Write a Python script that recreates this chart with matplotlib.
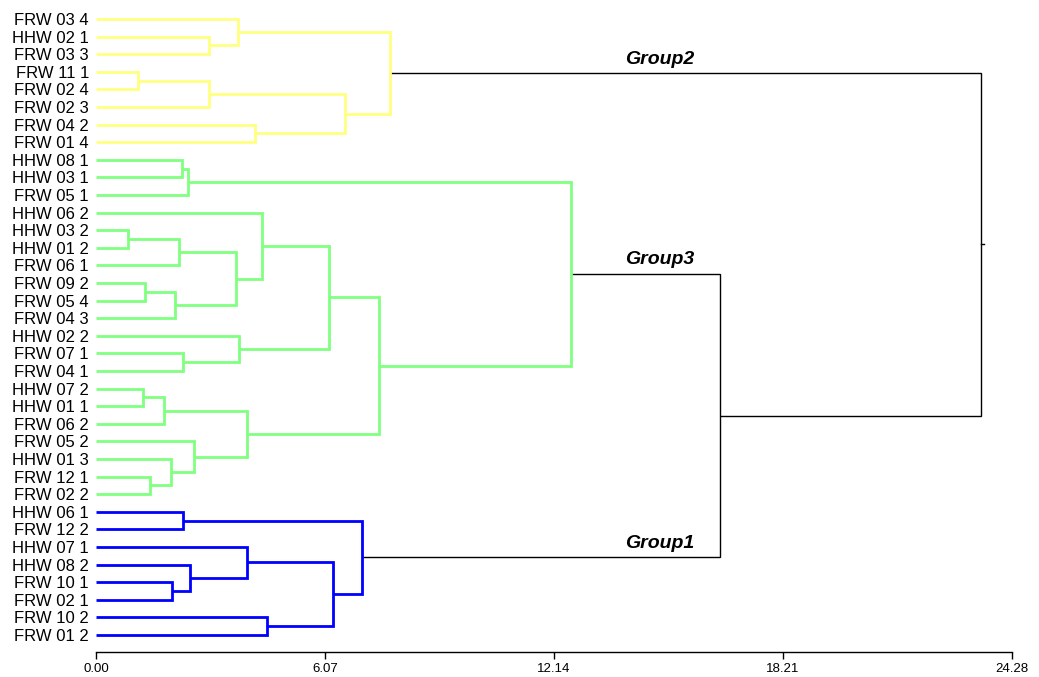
import matplotlib
matplotlib.use("Agg")
import matplotlib.pyplot as plt

plt.rcParams['font.family'] = ['Liberation Sans', 'DejaVu Sans']

# Sample labels, in dendrogram order from top to bottom
labels = [
    "FRW 03 4", "HHW 02 1", "FRW 03 3", "FRW 11 1", "FRW 02 4", "FRW 02 3",
    "FRW 04 2", "FRW 01 4",
    "HHW 08 1", "HHW 03 1", "FRW 05 1", "HHW 06 2", "HHW 03 2", "HHW 01 2",
    "FRW 06 1", "FRW 09 2", "FRW 05 4", "FRW 04 3", "HHW 02 2", "FRW 07 1",
    "FRW 04 1", "HHW 07 2", "HHW 01 1", "FRW 06 2", "FRW 05 2", "HHW 01 3",
    "FRW 12 1", "FRW 02 2",
    "HHW 06 1", "FRW 12 2", "HHW 07 1", "HHW 08 2", "FRW 10 1", "FRW 02 1",
    "FRW 10 2", "FRW 01 2",
]

# Linkage: merge k joins nodes (left, right) at distance height and creates
# node len(labels) + k. Leaves are nodes 0..35.
merge_left = [1, 0, 3, 38, 6, 39, 37,
              8, 43, 12, 45, 15, 47, 46, 11, 19, 18, 50, 21, 54, 26, 25, 24, 55, 53, 44,
              28, 32, 31, 30, 34, 65, 62,
              61, 42]
merge_right = [2, 36, 4, 5, 7, 40, 41,
               9, 10, 13, 14, 16, 17, 48, 49, 20, 51, 52, 22, 23, 27, 56, 57, 58, 59, 60,
               29, 33, 63, 64, 35, 66, 67,
               68, 69]
merge_height = [2.99, 3.76, 1.12, 2.99, 4.21, 6.60, 7.79,
                2.27, 2.45, 0.85, 2.21, 1.29, 2.10, 3.71, 4.40, 2.31, 3.78, 6.17,
                1.24, 1.80, 1.43, 2.00, 2.61, 4.00, 7.51, 12.60,
                2.30, 2.02, 2.50, 3.99, 4.53, 6.29, 7.04,
                16.53, 23.47]
# Cluster each merge belongs to (None = joins above the groups)
merge_group = ["Group2"] * 7 + ["Group3"] * 19 + ["Group1"] * 7 + [None, None]

group_names = ["Group2", "Group3", "Group1"]
group_colors = {"Group2": "#FFFF80", "Group3": "#80FF80", "Group1": "#0000FF"}

ticks = [0.00, 6.07, 12.14, 18.21, 24.28]

W, H, DPI = 1039, 677, 100
fig = plt.figure(figsize=(W / DPI, H / DPI), dpi=DPI)
ax_left, ax_right = 96 / W, 1012 / W
ax_top_px, ax_bot_px = 10, 652
ax = fig.add_axes([ax_left, 1 - ax_bot_px / H, ax_right - ax_left,
                   (ax_bot_px - ax_top_px) / H])

n = len(labels)
ypos = {i: float(i) for i in range(n)}
xpos = {i: 0.0 for i in range(n)}

for k, (a, b, h, g) in enumerate(zip(merge_left, merge_right, merge_height, merge_group)):
    node = n + k
    ya, yb = ypos[a], ypos[b]
    xa, xb = xpos[a], xpos[b]
    ypos[node] = (ya + yb) / 2
    xpos[node] = h
    if g is None:
        color, lw = "black", 1.0
    else:
        color, lw = group_colors[g], 2.0
    ax.plot([xa, h, h, xb], [ya, ya, yb, yb], color=color, lw=lw,
            solid_joinstyle="miter", solid_capstyle="butt", zorder=3 if g else 2)

# short stub to the right of the root node
root = n + len(merge_height) - 1
ax.plot([xpos[root], xpos[root] + 0.06], [ypos[root]] * 2, color="black", lw=1.0)

# group labels above the links leaving each group
group_tops = {g: n + max(k for k, gg in enumerate(merge_group) if gg == g)
              for g in group_names}
for g in group_names:
    node = group_tops[g]
    ax.text(14.95, ypos[node] - 0.3, g, ha="center", va="bottom",
            fontsize=14, fontweight="bold", fontstyle="italic", color="black")

ax.set_yticks(range(n))
ax.set_yticklabels(labels, fontsize=12)
ax.tick_params(axis="y", length=0, pad=5)
ax.set_xticks(ticks)
ax.set_xticklabels([f"{t:.2f}" for t in ticks], fontsize=9.5)
ax.tick_params(axis="x", direction="out", length=5, width=1, pad=3)

ax.set_xlim(0, 24.28)
ax.set_ylim(35 + (652 - 635) / 17.6, -(19 - 10) / 17.6)
for side in ("top", "right", "left"):
    ax.spines[side].set_visible(False)
ax.spines["bottom"].set_linewidth(1.0)
ax.patch.set_alpha(0)
for line in ax.get_lines():
    line.set_clip_on(False)

fig.savefig("out.png", dpi=DPI)
